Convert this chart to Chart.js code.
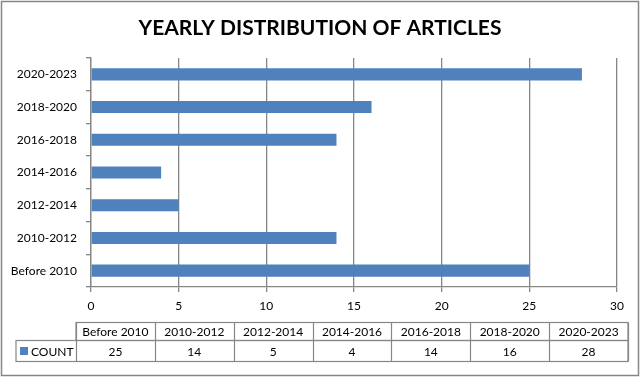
<!DOCTYPE html>
<html>
<head>
<meta charset="utf-8">
<script src="https://cdn.jsdelivr.net/npm/chart.js@4"></script>
<style>
    html, body { margin: 0; padding: 0; background: #fff; }
    #wrap { width: 640px; height: 377px; }
</style>
</head>
<body>
<div id="wrap"><canvas id="articlesChart" width="640" height="377"></canvas></div>
<script>
// Data
const titleText = 'YEARLY DISTRIBUTION OF ARTICLES';
const periods = ['Before 2010', '2010-2012', '2012-2014', '2014-2016', '2016-2018', '2018-2020', '2020-2023'];
const counts = [25, 14, 5, 4, 14, 16, 28];
const seriesName = 'COUNT';
const xTicks = [0, 5, 10, 15, 20, 25, 30];

const barColor = '#4F81BD';
const lineColor = '#868686';
const fontFamily = 'Lato, "Open Sans", sans-serif';

// White background, outer frame and title centred on the whole canvas
const framePlugin = {
    id: 'frame',
    beforeDraw(chart) {
        const c = chart.ctx;
        c.save();
        c.fillStyle = '#fff';
        c.fillRect(0, 0, chart.width, chart.height);
        c.strokeStyle = lineColor;
        c.lineWidth = 1.5;
        c.strokeRect(1.5, 1.5, chart.width - 3, chart.height - 3);

        c.fillStyle = '#000';
        c.font = 'bold 21px ' + fontFamily;
        c.textAlign = 'center';
        c.textBaseline = 'middle';
        c.fillText(titleText, chart.width / 2, 28);
        c.restore();
    }
};

// Excel style data table under the x axis
const dataTablePlugin = {
    id: 'dataTable',
    afterDraw(chart) {
        const c = chart.ctx;
        const area = chart.chartArea;
        const left = area.left - 15;
        const right = area.right + 11;
        const legendLeft = 16;
        const top = 322.5;
        const mid = 340.5;
        const bottom = 361.5;
        const colW = (right - left) / periods.length;

        c.save();
        c.strokeStyle = lineColor;
        c.lineWidth = 1.2;

        // header row
        c.strokeRect(left, top, right - left, mid - top);
        // data row
        c.strokeRect(legendLeft, mid, right - legendLeft, bottom - mid);
        c.beginPath();
        for (let i = 0; i <= periods.length; i++) {
            const x = Math.round(left + i * colW) + 0.5;
            c.moveTo(x, top);
            c.lineTo(x, bottom);
        }
        c.stroke();

        c.fillStyle = '#000';
        c.font = '12px ' + fontFamily;
        c.textAlign = 'center';
        c.textBaseline = 'middle';
        periods.forEach((p, i) => {
            const cx = left + (i + 0.5) * colW;
            c.fillText(p, cx, (top + mid) / 2 + 1);
            c.fillText(String(counts[i]), cx, (mid + bottom) / 2 + 1);
        });

        // legend key
        c.fillStyle = barColor;
        c.fillRect(20, 347, 8, 8);
        c.fillStyle = '#000';
        c.textAlign = 'left';
        c.fillText(seriesName, 31, (mid + bottom) / 2 + 1);
        c.restore();
    }
};

const ctx = document.getElementById('articlesChart').getContext('2d');

const articlesChart = new Chart(ctx, {
    type: 'bar',
    data: {
        labels: periods,
        datasets: [{
            label: seriesName,
            data: counts,
            backgroundColor: barColor,
            borderWidth: 0,
            categoryPercentage: 1,
            barPercentage: 0.37
        }]
    },
    options: {
        indexAxis: 'y',
        responsive: false,
        animation: false,
        layout: {
            padding: { left: 0, right: 23, top: 58, bottom: 64 }
        },
        scales: {
            x: {
                min: 0,
                max: 30,
                afterBuildTicks(scale) {
                    scale.ticks = xTicks.map(v => ({ value: v }));
                },
                afterFit(scale) {
                    scale.height = 26;
                },
                grid: {
                    color: lineColor,
                    lineWidth: 1.3,
                    tickLength: 5,
                    tickColor: lineColor
                },
                border: { color: lineColor, width: 1.3 },
                ticks: {
                    padding: 7,
                    color: '#000',
                    font: { family: fontFamily, size: 12 }
                }
            },
            y: {
                reverse: true,
                afterFit(scale) {
                    scale.width = 91;
                },
                grid: {
                    drawOnChartArea: false,
                    offset: true,
                    tickLength: 5,
                    tickColor: lineColor,
                    lineWidth: 1.3
                },
                border: { color: lineColor, width: 1.3 },
                ticks: {
                    padding: 9,
                    color: '#000',
                    font: { family: fontFamily, size: 12 }
                }
            }
        },
        plugins: {
            legend: { display: false },
            tooltip: { enabled: false },
            title: { display: false }
        }
    },
    plugins: [framePlugin, dataTablePlugin]
});
</script>
</body>
</html>
